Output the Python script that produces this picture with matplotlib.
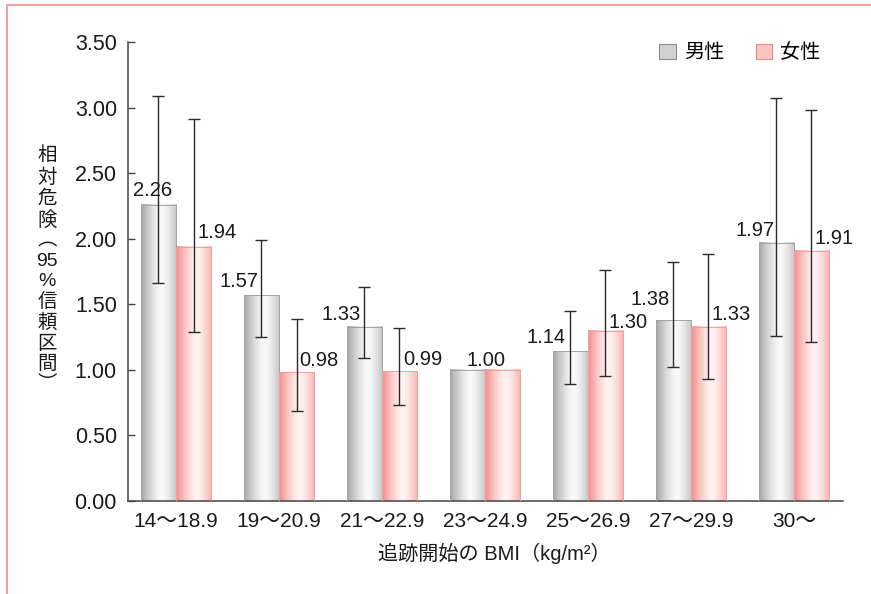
import numpy as np
import matplotlib.pyplot as plt
from matplotlib.lines import Line2D
from matplotlib.patches import Patch

plt.rcParams['font.family'] = ['Liberation Sans', 'Noto Sans CJK JP']

# BMI groups at the start of follow-up
groups = ['14〜18.9', '19〜20.9', '21〜22.9', '23〜24.9', '25〜26.9', '27〜29.9', '30〜']

# relative risk and 95% CI (23-24.9 is the reference group)
men = [2.26, 1.57, 1.33, 1.00, 1.14, 1.38, 1.97]
men_lo = [1.66, 1.25, 1.09, None, 0.89, 1.02, 1.26]
men_hi = [3.09, 1.99, 1.63, None, 1.45, 1.82, 3.07]
women = [1.94, 0.98, 0.99, 1.00, 1.30, 1.33, 1.91]
women_lo = [1.29, 0.69, 0.73, None, 0.95, 0.93, 1.21]
women_hi = [2.91, 1.39, 1.32, None, 1.76, 1.88, 2.98]

# label placement (points, relative to the bar centre / top)
men_dx = [-4, -16.5, -16.5, None, -17.5, -16.5, -15.5]
men_dy = [6, 6, 4.5, None, 6, 11, 5]
women_dx = [17, 16, 16.5, -12, 16, 16, 16.5]
women_dy = [6, 4.5, 4.5, 3, 2, 5, 5]

W, H = 871, 594
fig = plt.figure(figsize=(W / 100, H / 100), dpi=100)
ax = fig.add_axes([128 / W, 1 - 501 / H, (843 - 128) / W, (501 - 42) / H])

x = np.arange(len(groups))
bw = 0.34


def shade(edge, mid):
    t = np.linspace(0, 1, 200)
    prof = np.clip(1 - np.abs((t - 0.58) / 0.58) ** 1.4, 0, 1)
    edge = np.array(edge) / 255
    mid = np.array(mid) / 255
    img = edge[None, :] + (mid - edge)[None, :] * prof[:, None]
    return img[None, :, :]


men_img = shade((165, 165, 165), (250, 250, 250))
women_img = shade((244, 140, 138), (255, 244, 242))

bars_m = ax.bar(x - bw / 2, men, bw, facecolor='none', edgecolor='#a4a4a4', lw=0.7, zorder=3)
bars_w = ax.bar(x + bw / 2, women, bw, facecolor='none', edgecolor='#f2a09e', lw=0.7, zorder=3)
for bars, img in ((bars_m, men_img), (bars_w, women_img)):
    for b in bars:
        x0, y0 = b.get_x(), b.get_y()
        ax.imshow(img, extent=[x0, x0 + b.get_width(), y0, y0 + b.get_height()],
                  aspect='auto', interpolation='bicubic', zorder=2)

# confidence intervals
for off, vals, lo, hi in ((-bw / 2, men, men_lo, men_hi), (bw / 2, women, women_lo, women_hi)):
    idx = [i for i in range(len(vals)) if lo[i] is not None]
    xs = x[idx] + off
    ys = np.array([vals[i] for i in idx])
    err = np.array([[vals[i] - lo[i] for i in idx], [hi[i] - vals[i] for i in idx]])
    ax.errorbar(xs, ys, yerr=err, fmt='none', ecolor='#2a2a2a', elinewidth=1.0,
                capsize=4.3, capthick=1.0, zorder=4)

# value labels
for i in range(len(groups)):
    if men_dx[i] is not None:
        ax.annotate(f'{men[i]:.2f}', (x[i] - bw / 2, men[i]), xytext=(men_dx[i], men_dy[i]),
                    textcoords='offset points', ha='center', va='baseline', fontsize=14.5,
                    color='#1a1a1a', zorder=5)
    ax.annotate(f'{women[i]:.2f}', (x[i] + bw / 2, women[i]), xytext=(women_dx[i], women_dy[i]),
                textcoords='offset points', ha='center', va='baseline', fontsize=14.5,
                color='#1a1a1a', zorder=5)

ax.set_xlim(-0.466, 6.476)
ax.set_ylim(0, 3.5)
ax.set_yticks(np.arange(0, 3.51, 0.5))
ax.set_yticklabels([f'{v:.2f}' for v in np.arange(0, 3.51, 0.5)])
ax.set_xticks(x)
ax.set_xticklabels(groups)
ax.tick_params(axis='y', direction='in', length=5, width=1, color='#444444',
               labelsize=15.5, pad=8, labelcolor='#1a1a1a')
ax.tick_params(axis='x', length=0, labelsize=15, pad=8, labelcolor='#1a1a1a')
for s in ('top', 'right'):
    ax.spines[s].set_visible(False)
for s in ('left', 'bottom'):
    ax.spines[s].set_color('#444444')
    ax.spines[s].set_linewidth(1.1)

ax.set_xlabel('追跡開始の BMI（kg/m²）', fontsize=14.5, color='#1a1a1a')
ax.xaxis.set_label_coords((494 - 128) / (843 - 128), -(553 - 501) / (501 - 42), transform=ax.transAxes)
ax.xaxis.label.set_va('center')

ylab = '\n'.join(['相', '対', '危', '険', '︵', '95', '%', '信', '頼', '区', '間', '︶'])
fig.text(47 / W, 1 - 270 / H, ylab, ha='center', va='center', multialignment='center',
         fontsize=14, linespacing=1.23, color='#1a1a1a')

handles = [Patch(facecolor='#d2d2d2', edgecolor='#8c8c8c', lw=0.8),
           Patch(facecolor='#fbc6c4', edgecolor='#ee8a88', lw=0.8)]
fig.legend(handles, ['男性', '女性'], loc='center', bbox_to_anchor=(740 / W, 1 - 53 / H),
           ncol=2, frameon=False, fontsize=14.5, handlelength=0.8, handleheight=0.8,
           handletextpad=0.4, columnspacing=1.6)

# page frame
fig.add_artist(Line2D([7 / W, 1], [1 - 5 / H, 1 - 5 / H], color='#f0a09c', lw=1.4))
fig.add_artist(Line2D([7 / W, 7 / W], [0, 1 - 5 / H], color='#f0a09c', lw=1.4))

fig.savefig('out.png', dpi=100)
